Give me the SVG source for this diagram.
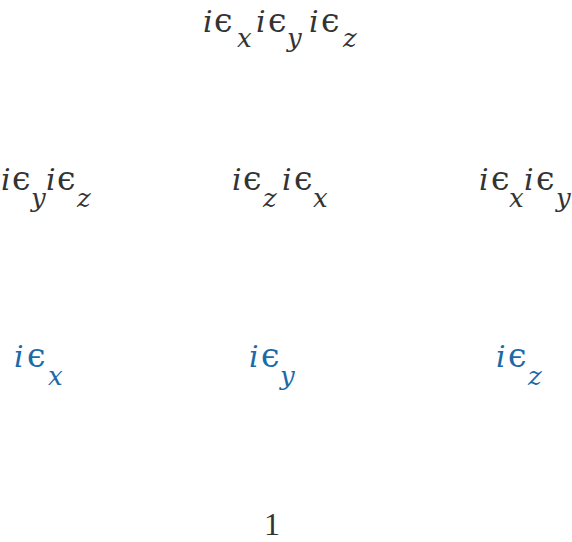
<svg xmlns="http://www.w3.org/2000/svg" width="572" height="542" viewBox="0 0 572 542">
<style>
text{font-family:"DejaVu Serif",serif;font-style:italic;font-size:30px;fill:#333333}
.e{font-family:"DejaVu Serif",serif;font-style:normal;font-size:33px}
.b{fill:#1a6aa8}
.s{font-size:26px}
.n{font-family:"Liberation Serif",serif;font-style:normal;font-size:32px}
</style>
<rect width="572" height="542" fill="#ffffff"/>
<g id="n_xyz"><text y="32"><tspan x="203">i</tspan><tspan class="e" x="214">ϵ</tspan><tspan class="s" x="237" y="47">x</tspan><tspan x="256" y="32">i</tspan><tspan class="e" x="268">ϵ</tspan><tspan class="s" x="287" y="47">y</tspan><tspan x="309" y="32">i</tspan><tspan class="e" x="321">ϵ</tspan><tspan class="s" x="343" y="47">z</tspan></text></g>
<g id="n_yz"><text y="190"><tspan x="1">i</tspan><tspan class="e" x="12">ϵ</tspan><tspan class="s" x="31" y="207">y</tspan><tspan x="46" y="190">i</tspan><tspan class="e" x="57">ϵ</tspan><tspan class="s" x="77" y="207">z</tspan></text></g>
<g id="n_zx"><text y="190"><tspan x="232">i</tspan><tspan class="e" x="243">ϵ</tspan><tspan class="s" x="263" y="207">z</tspan><tspan x="282" y="190">i</tspan><tspan class="e" x="294">ϵ</tspan><tspan class="s" x="313" y="207">x</tspan></text></g>
<g id="n_xy"><text y="190"><tspan x="479">i</tspan><tspan class="e" x="491">ϵ</tspan><tspan class="s" x="509" y="207">x</tspan><tspan x="524" y="190">i</tspan><tspan class="e" x="536">ϵ</tspan><tspan class="s" x="556" y="207">y</tspan></text></g>
<g id="n_x"><text class="b" y="367"><tspan x="14">i</tspan><tspan class="e" x="27">ϵ</tspan><tspan class="s" x="48" y="385">x</tspan></text></g>
<g id="n_y"><text class="b" y="367"><tspan x="249">i</tspan><tspan class="e" x="261">ϵ</tspan><tspan class="s" x="280" y="385">y</tspan></text></g>
<g id="n_z"><text class="b" y="367"><tspan x="496">i</tspan><tspan class="e" x="508">ϵ</tspan><tspan class="s" x="528" y="385">z</tspan></text></g>
<g id="n_1"><text class="n" x="264" y="535">1</text></g>
<g id="connectors"></g>
</svg>
